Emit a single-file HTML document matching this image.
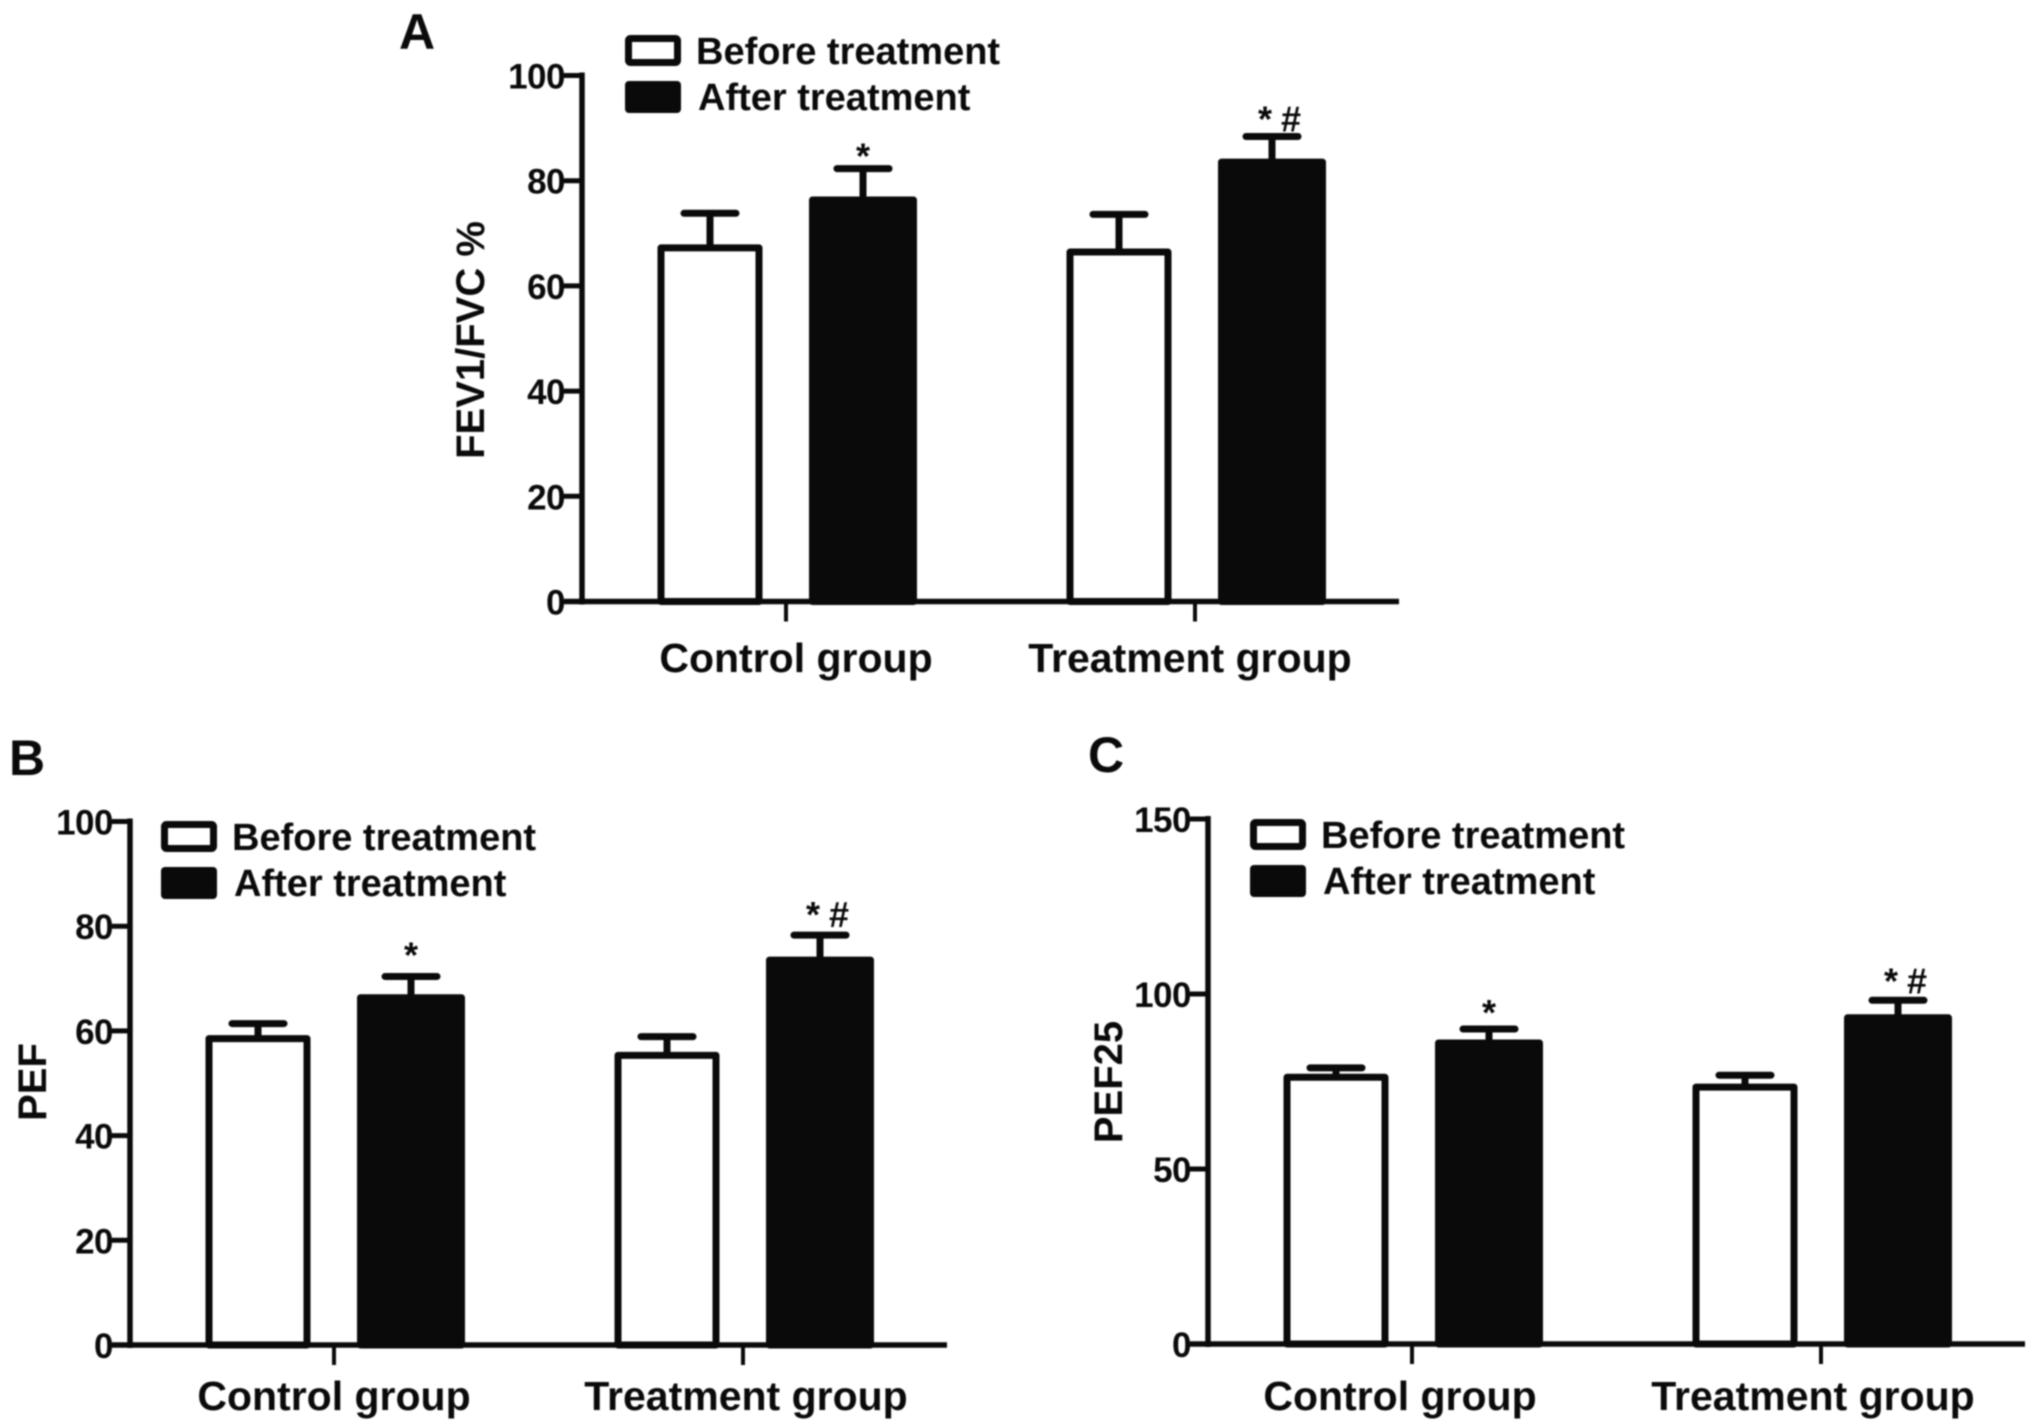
<!DOCTYPE html>
<html lang="en">
<head>
<meta charset="utf-8">
<title>FEV1/FVC, PEF and PEF25 before and after treatment</title>
<style>
html,body{margin:0;padding:0;background:#fff;}
body{width:2031px;height:1422px;overflow:hidden;}
svg{display:block;filter:blur(0.9px);}
text{font-family:"Liberation Sans",sans-serif;font-weight:bold;fill:#0a0a0a;}
</style>
</head>
<body>
<svg id="figure" xmlns="http://www.w3.org/2000/svg" width="2031" height="1422" viewBox="0 0 2031 1422"></svg>
<script>
const categories = ["Control group", "Treatment group"];
const seriesNames = ["Before treatment", "After treatment"];

const fevBefore = [67.9, 67.1];
const fevAfter = [77, 84.2];
const fevBeforeErr = [73.8, 73.6];
const fevAfterErr = [82.3, 88.4];
const fevTicks = [0, 20, 40, 60, 80, 100];

const pefBefore = [59.2, 56];
const pefAfter = [67, 74.2];
const pefBeforeErr = [61.4, 58.9];
const pefAfterErr = [70.4, 78.3];
const pefTicks = [0, 20, 40, 60, 80, 100];

const pef25Before = [77.2, 74.4];
const pef25After = [87, 94.2];
const pef25BeforeErr = [78.9, 76.8];
const pef25AfterErr = [90, 98.2];
const pef25Ticks = [0, 50, 100, 150];

const annotations = ["*", "*#"];

const SVGNS = "http://www.w3.org/2000/svg";
const root = document.getElementById("figure");

function make(parent, tag, attrs, content) {
  const el = document.createElementNS(SVGNS, tag);
  for (const k in attrs) el.setAttribute(k, attrs[k]);
  if (content !== undefined) el.textContent = content;
  parent.appendChild(el);
  return el;
}

function drawPanel(cfg) {
  const g = make(root, "g", {});
  
  

  const yMax = cfg.ticks[cfg.ticks.length - 1];
  const yScale = v => cfg.y0 - (v / yMax) * (cfg.y0 - cfg.yTop);
  const xScale = i => cfg.axisX + 204 + 409 * i;
  const ink = "#0a0a0a";

  const letter = make(g, "text", {x: cfg.letterX, y: cfg.letterY, "font-size": 50}, cfg.letter);
  
  

  const yTitle = make(g, "text", {
    x: 0, y: 0, "font-size": cfg.titleSize, "text-anchor": "middle",
    transform: "translate(" + cfg.titleX + "," + cfg.titleY + ") rotate(-90)"
  }, cfg.title);
  
  

  // bars and error bars
  categories.forEach((cat, i) => {
    const cx = xScale(i);
    [[cfg.before, cfg.beforeErr, -76, 105, "#ffffff"], [cfg.after, cfg.afterErr, 77, 108, ink]].forEach((s, si) => {
      const barX = cx + s[2];
      const top = yScale(s[0][i]);
      const errTop = yScale(s[1][i]);

      const stem = make(g, "line", {x1: barX, x2: barX, y1: top + 3, y2: errTop, stroke: ink, "stroke-width": 7});
      
      

      const cap = make(g, "line", {x1: barX - 26, x2: barX + 26, y1: errTop, y2: errTop, stroke: ink, "stroke-width": 7, "stroke-linecap": "round"});
      
      

      const bar = make(g, "rect", {
        x: barX - s[3] / 2 + 3.5, y: top + 3.5, width: s[3] - 7, height: cfg.y0 - top - 3.5,
        fill: s[4], stroke: ink, "stroke-width": 7, "stroke-linejoin": "round"
      });
      
      

      if (si === 1) {
        const note = make(g, "text", {
          x: barX + (i === 0 ? 0 : 12), y: errTop - 4 + cfg.noteOffsets[i], "font-size": 36, "text-anchor": "middle", "letter-spacing": i === 0 ? 0 : 9
        }, annotations[i]);
        
        
      }
    });

    const tick = make(g, "line", {x1: cx, x2: cx, y1: cfg.y0, y2: cfg.y0 + 20, stroke: ink, "stroke-width": 4});
    
    

    const label = make(g, "text", {x: cx + cfg.labelOffsets[i], y: cfg.labelY, "font-size": 41, "text-anchor": "middle"}, cat);
    
    
  });

  // axes
  const yAxis = make(g, "line", {x1: cfg.axisX, x2: cfg.axisX, y1: cfg.yTop - 3, y2: cfg.y0 + 3, stroke: ink, "stroke-width": 5.5});
  
  

  const xAxis = make(g, "line", {x1: cfg.axisX - 18, x2: cfg.axisX + 817, y1: cfg.y0, y2: cfg.y0, stroke: ink, "stroke-width": 5.5});
  
  

  cfg.ticks.forEach(t => {
    const tick = make(g, "line", {x1: cfg.axisX - 18, x2: cfg.axisX, y1: yScale(t), y2: yScale(t), stroke: ink, "stroke-width": 5});
    
    

    const label = make(g, "text", {x: cfg.axisX - 17, y: yScale(t) + 13, "font-size": 35, "text-anchor": "end", "letter-spacing": -0.5}, String(t));
    
    
  });

  // legend
  const swatch1 = make(g, "rect", {x: cfg.legendX + 3.5, y: cfg.legendY + 3.5, width: 49, height: 24, rx: 2, fill: "#ffffff", stroke: ink, "stroke-width": 7});
  
  

  const swatch2 = make(g, "rect", {x: cfg.legendX, y: cfg.legendY + 46, width: 56, height: 32, rx: 4, fill: ink});
  
  

  const legend1 = make(g, "text", {x: cfg.legendX + 71, y: cfg.legendY + 29, "font-size": 38}, seriesNames[0]);
  
  

  const legend2 = make(g, "text", {x: cfg.legendX + 73, y: cfg.legendY + 75, "font-size": 38}, seriesNames[1]);
  
  
}

drawPanel({key: "a", letter: "A", letterX: 399, letterY: 49, title: "FEV1/FVC %", titleSize: 40, titleX: 484, titleY: 340,
  axisX: 582, y0: 601.5, yTop: 75.5, labelY: 672, labelOffsets: [10, -5], legendX: 625, legendY: 35, noteOffsets: [4, -1],
  ticks: fevTicks, before: fevBefore, after: fevAfter, beforeErr: fevBeforeErr, afterErr: fevAfterErr});

drawPanel({key: "b", letter: "B", letterX: 9, letterY: 775, title: "PEF", titleSize: 40, titleX: 46, titleY: 1082,
  axisX: 130, y0: 1345, yTop: 821.5, labelY: 1410, labelOffsets: [0, 3], legendX: 161, legendY: 821, noteOffsets: [-5, -4],
  ticks: pefTicks, before: pefBefore, after: pefAfter, beforeErr: pefBeforeErr, afterErr: pefAfterErr});

drawPanel({key: "c", letter: "C", letterX: 1088, letterY: 772, title: "PEF25", titleSize: 40, titleX: 1122, titleY: 1082,
  axisX: 1208, y0: 1344, yTop: 819, labelY: 1410, labelOffsets: [-12, -8], legendX: 1250, legendY: 819, noteOffsets: [0, -3],
  ticks: pef25Ticks, before: pef25Before, after: pef25After, beforeErr: pef25BeforeErr, afterErr: pef25AfterErr});
</script>
</body>
</html>
